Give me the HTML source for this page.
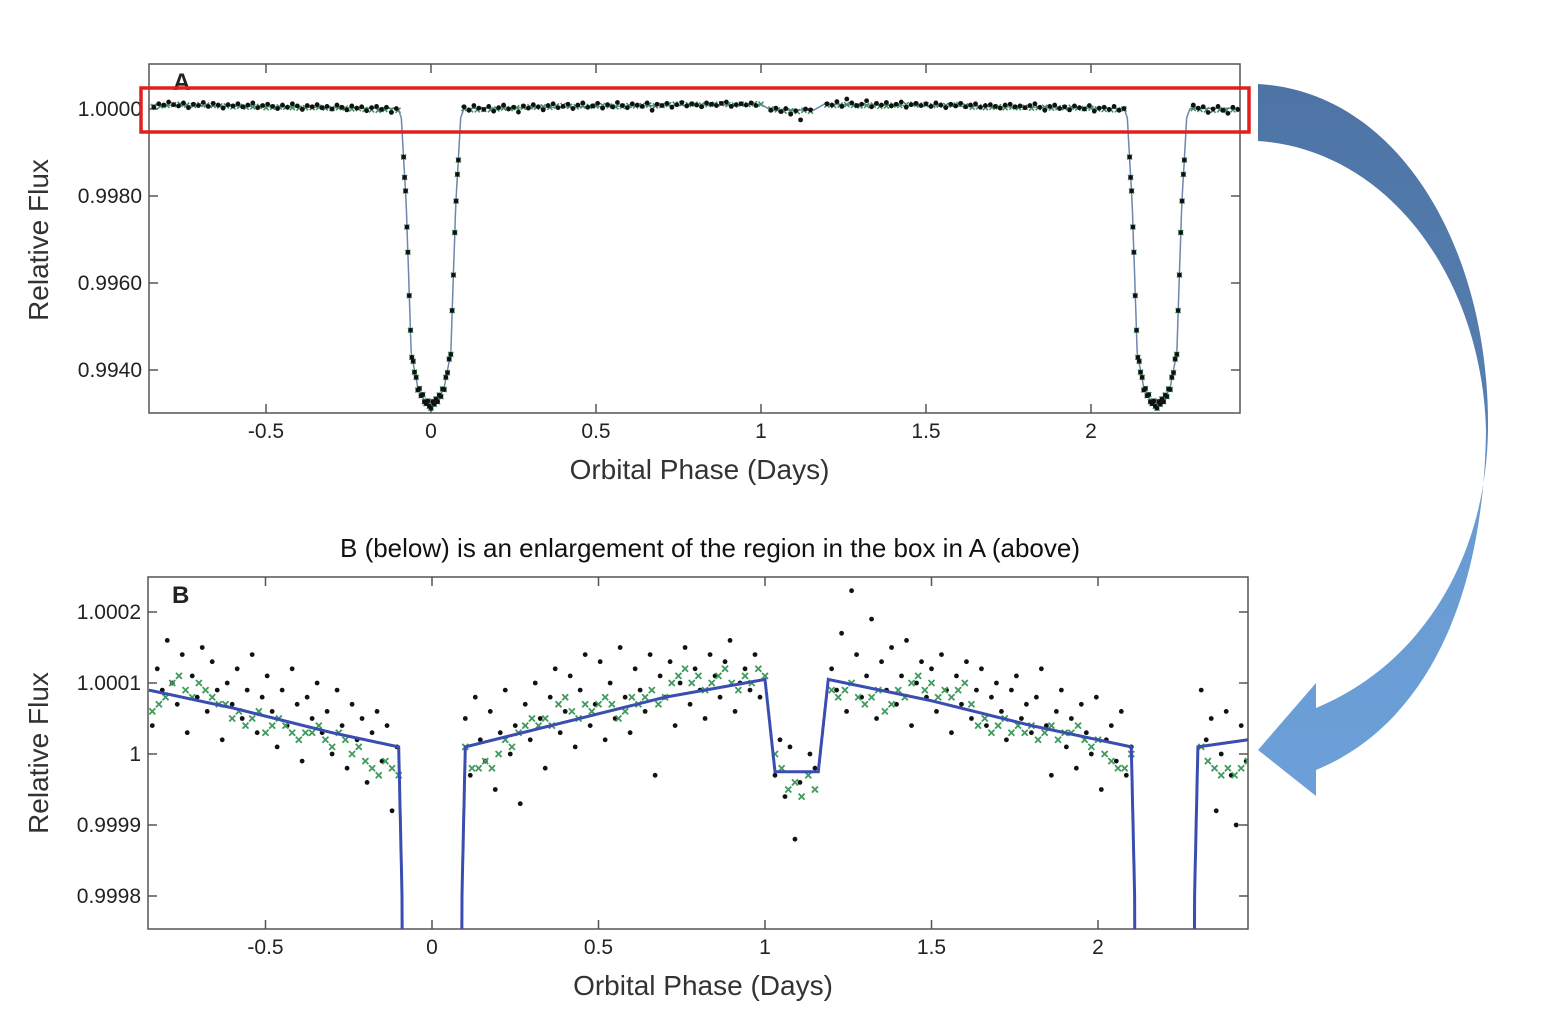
<!DOCTYPE html>
<html><head><meta charset="utf-8"><style>
html,body{margin:0;padding:0;background:#fff;width:1542px;height:1026px;overflow:hidden;position:relative;}
svg{display:block;position:absolute;left:0;top:0;font-family:"Liberation Sans",Arial,sans-serif;}
script{display:none;}
</style></head><body>
<svg id="fig" width="1542" height="1026" viewBox="0 0 1542 1026">
<defs>
<linearGradient id="ag" x1="0" y1="0" x2="0" y2="1">
<stop offset="0" stop-color="#4d74a4"/><stop offset="0.45" stop-color="#557fb0"/><stop offset="0.6" stop-color="#6a9bd2"/><stop offset="1" stop-color="#6c9fd8"/>
</linearGradient>
<clipPath id="clipA"><rect x="149" y="64" width="1091" height="349"/></clipPath>
<clipPath id="clipB"><rect x="148" y="577" width="1100" height="352"/></clipPath>
</defs>
<g id="panelA"></g>
<g id="panelB"></g>
<text x="710" y="557" text-anchor="middle" font-size="26" fill="#111">B (below)  is an enlargement of the region in the box in A (above)</text>
<rect x="141" y="88" width="1108" height="44" fill="none" stroke="#e0201e" stroke-width="3.5"/>
<path d="M1258,84 C1400,92 1490,250 1488,430 C1486,560 1420,665 1316,708 L1316,683 L1258,750 L1316,796 L1316,770 C1425,725 1484,600 1486,430 C1482,280 1390,150 1258,141 Z" fill="url(#ag)"/>
</svg>
<script>
// ---- data (flux offsets in units of 1e-5) ----
const seg1Start=-0.84, seg2Start=0.1, seg3Start=1.03, seg4Start=1.2, seg5Start=2.31, dotStep=0.015;
const seg1Flux=[4,12,9,16,10,7,14,3,11,8,15,6,13,9,2,10,7,12,5,9,14,3,8,11,6,1,9,4,12,7,-1,8,5,10,3,6,0,9,4,-2,7,2,5,-4,3,6,-1,4,-8,1];
const seg2Flux=[5,-3,8,2,-1,6,-5,3,9,0,4,-7,7,2,10,5,-2,8,12,3,6,11,1,9,14,4,7,13,2,10,5,15,8,3,12,9,6,14,-3,11,8,13,4,10,15,7,12,9,5,14,11,8,13,16,6,10,12,9,14,8];
const seg3Flux=[-3,2,-6,1,-12,-4,-25,0,-2];
const seg4Flux=[12,9,17,6,23,14,8,11,19,5,13,9,15,7,11,16,4,10,13,8,12,6,14,9,3,11,7,13,5,9,12,4,8,10,6,2,9,11,5,7,3,8,12,4,-3,6,9,1,5,-2,7,3,0,8,-5,2,4,-1,6,-3,1];
const seg5Flux=[9,2,5,-8,0,6,-3,-10,4,-1];
const binStep=0.02;
const bin1Flux=[6,7,8,10,11,9,8,10,9,8,7,7,5,6,4,5,6,3,4,5,4,3,2,3,3,4,2,1,3,2,0,1,-1,-2,-3,-1,-2,-3];
const bin2Flux=[1,-2,-2,-1,-2,0,2,1,3,4,5,4,5,4,7,8,6,5,7,6,7,8,7,5,6,8,7,8,9,7,8,10,11,12,10,11,9,10,11,12,10,9,11,10,12,11];
const bin3Flux=[0,-2,-5,-4,-6,-3,-5];
const bin4Flux=[9,8,9,10,8,7,8,9,6,7,9,8,10,11,9,10,8,9,8,9,10,7,4,5,3,4,5,3,4,3,4,2,3,4,2,3,3,4,2,1,2,0,-1,-2,-2,0];
const bin5Flux=[1,-1,-2,-3,-2,-3,-2,-1];
const modelPhase=[-0.85,-0.6,-0.3,-0.1,-0.09,-0.075,-0.06,-0.04,-0.02,0,0.02,0.04,0.06,0.075,0.09,0.1,0.4,0.7,1.0,1.03,1.16,1.19,1.5,1.8,2.1,2.11,2.125,2.14,2.16,2.18,2.2,2.22,2.24,2.26,2.275,2.29,2.3,2.45];
const modelFlux=[9,6.5,3,1,-20,-220,-560,-640,-670,-680,-670,-640,-560,-220,-20,1,4.5,8,10.5,-2.5,-2.5,10.5,7.5,4,1,-20,-220,-560,-640,-670,-680,-670,-640,-560,-220,-20,1,2];
const transitPhase=[-0.083,-0.08,-0.077,-0.073,-0.07,-0.066,-0.062,-0.058,-0.054,-0.05,-0.045,-0.04,-0.035,-0.03,-0.025,-0.02,-0.015,-0.01,-0.005,0,0.005,0.01,0.015,0.02,0.025,0.03,0.035,0.04,0.045,0.05,0.055,0.06,0.064,0.068,0.072,0.076,0.08,0.083];
const transitNoise=[3,-4,5,-6,4,-5,6,-3,4,-5,3,-6,5,-4,6,-3,-5,4,-6,-8,5,-4,6,-3,5,-6,4,-5,3,-6,5,-4,6,-3,4,-5,3,-4];
const xTicks=[-0.5,0,0.5,1,1.5,2];
const xTickLabels=["-0.5","0","0.5","1","1.5","2"];
const aYTicks=[1.0,0.998,0.996,0.994];
const aYLabels=["1.0000","0.9980","0.9960","0.9940"];
const bYTicks=[1.0002,1.0001,1.0,0.9999,0.9998];
const bYLabels=["1.0002","1.0001","1","0.9999","0.9998"];

// ---- axes ----
const xA=p=>431+(p)*330, yA=f=>109-(f-1)/0.002*87;
const xB=p=>432+(p)*333, yB=f=>754-(f-1)/0.0001*71;
const NS='http://www.w3.org/2000/svg';
function mk(tag,attrs,parent){const e=document.createElementNS(NS,tag);for(const k in attrs)e.setAttribute(k,attrs[k]);parent.appendChild(e);return e;}
function interp(p){for(let i=0;i<modelPhase.length-1;i++){if(p>=modelPhase[i]&&p<=modelPhase[i+1]){const t=(p-modelPhase[i])/(modelPhase[i+1]-modelPhase[i]);return modelFlux[i]+t*(modelFlux[i+1]-modelFlux[i]);}}return modelFlux[modelFlux.length-1];}
function dots(){const out=[];[[seg1Start,seg1Flux],[seg2Start,seg2Flux],[seg3Start,seg3Flux],[seg4Start,seg4Flux],[seg5Start,seg5Flux]].forEach(([s,a])=>a.forEach((v,i)=>out.push([s+i*dotStep,v])));return out;}
function bins(){const out=[];[[-0.84,bin1Flux],[0.1,bin2Flux],[1.03,bin3Flux],[1.2,bin4Flux],[2.31,bin5Flux]].forEach(([s,a])=>a.forEach((v,i)=>out.push([s+i*binStep,v])));return out;}

function frame(g,X,Y,x0,y0,x1,y1,yt,yl,label,ylabY){
  const r=mk('rect',{x:x0,y:y0,width:x1-x0,height:y1-y0,fill:'none',stroke:'#555','stroke-width':1.5},g);
  
  xTicks.forEach((t,i)=>{const x=X(t);
    mk('line',{x1:x,y1:y1,x2:x,y2:y1-9,stroke:'#555','stroke-width':1.5},g);
    mk('line',{x1:x,y1:y0,x2:x,y2:y0+9,stroke:'#555','stroke-width':1.5},g);
    const tx=mk('text',{x:x,y:y1+25,'text-anchor':'middle','font-size':21,fill:'#222'},g);tx.textContent=xTickLabels[i];
    });
  yt.forEach((t,i)=>{const y=Y(t);
    mk('line',{x1:x0,y1:y,x2:x0+9,y2:y,stroke:'#555','stroke-width':1.5},g);
    mk('line',{x1:x1,y1:y,x2:x1-9,y2:y,stroke:'#555','stroke-width':1.5},g);
    const tx=mk('text',{x:x0-7,y:y+7,'text-anchor':'end','font-size':21,fill:'#222'},g);tx.textContent=yl[i];
    });
  const xt=mk('text',{x:(x0+x1)/2+5,y:y1+66,'text-anchor':'middle','font-size':28,fill:'#333'},g);xt.textContent='Orbital Phase (Days)';
  
  const yT=mk('text',{x:0,y:0,'text-anchor':'middle','font-size':28,fill:'#333',transform:`translate(48,${ylabY}) rotate(-90)`},g);yT.textContent='Relative Flux';
  
  const pl=mk('text',{x:x0+24,y:y0+26,'font-size':24,'font-weight':'bold',fill:'#222'},g);pl.textContent=label;
  
}

// Panel A
const gA=document.getElementById('panelA');
frame(gA,xA,yA,149,64,1240,413,aYTicks,aYLabels,'A',240);
const cA=mk('g',{'clip-path':'url(#clipA)'},gA);
const allDots=dots();
const tDots=[];[0,2.2].forEach(o=>transitPhase.forEach((p,i)=>tDots.push([p+o,interp(p+o)+transitNoise[i]])));
let mp='';for(let p=-0.85;p<=2.455;p+=0.002){mp+=(mp?'L':'M')+xA(p).toFixed(1)+','+yA(1+interp(p)*1e-5).toFixed(1);}
const la=mk('path',{d:mp,fill:'none',stroke:'#6f86ad','stroke-width':1.5},cA);

bins().concat(tDots).forEach(([p,v])=>{const x=xA(p),y=yA(1+v*1e-5);
  const c=mk('path',{d:`M${x-2.5},${y-2.5}L${x+2.5},${y+2.5}M${x-2.5},${y+2.5}L${x+2.5},${y-2.5}`,stroke:'#3f8f5f','stroke-width':1.5},cA);
  });
allDots.concat(tDots).forEach(([p,v])=>{const d=mk('circle',{cx:xA(p),cy:yA(1+v*1e-5),r:2.4,fill:'#111'},cA);
  });

// Panel B
const gB=document.getElementById('panelB');
frame(gB,xB,yB,148,577,1248,929,bYTicks,bYLabels,'B',753);
const cB=mk('g',{'clip-path':'url(#clipB)'},gB);
allDots.forEach(([p,v])=>{const d=mk('circle',{cx:xB(p),cy:yB(1+v*1e-5),r:2.4,fill:'#111'},cB);
  });
bins().forEach(([p,v])=>{const x=xB(p),y=yB(1+v*1e-5);
  const c=mk('path',{d:`M${x-3},${y-3}L${x+3},${y+3}M${x-3},${y+3}L${x+3},${y-3}`,stroke:'#3f9a5c','stroke-width':1.8},cB);
  });
let mb='';for(let p=-0.85;p<=2.455;p+=0.001){mb+=(mb?'L':'M')+xB(p).toFixed(1)+','+yB(1+interp(p)*1e-5).toFixed(1);}
const lb=mk('path',{d:mb,fill:'none',stroke:'#3a4db0','stroke-width':3},cB);

</script>
</body></html>
